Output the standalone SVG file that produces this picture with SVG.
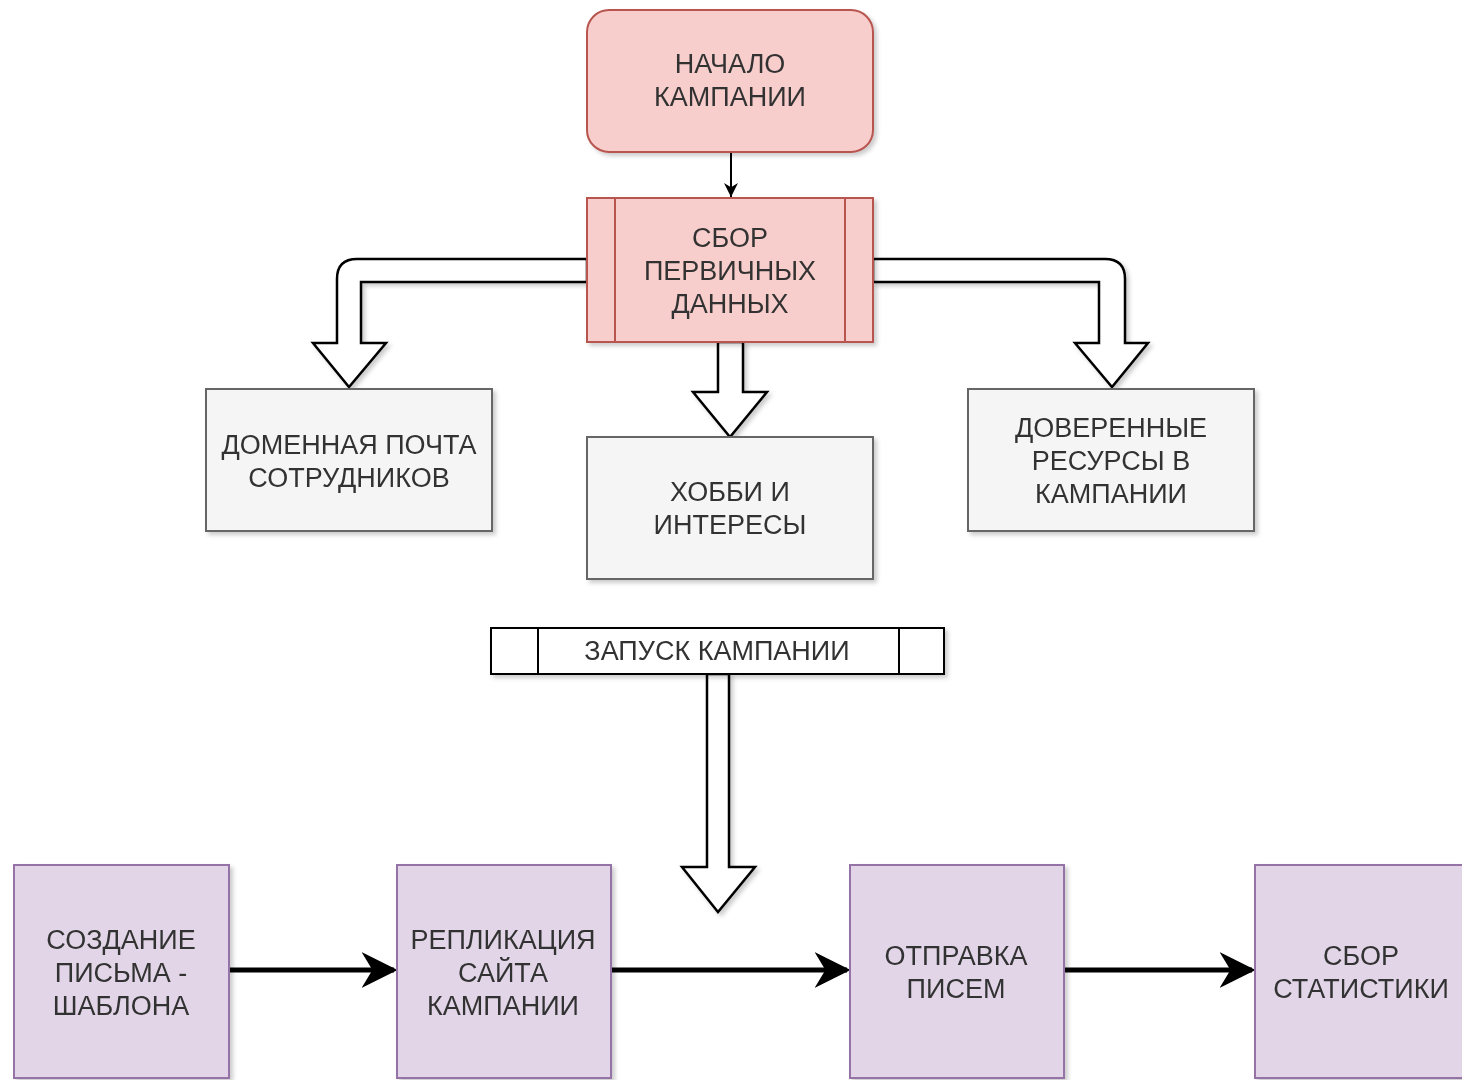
<svg xmlns="http://www.w3.org/2000/svg" width="1462" height="1080" viewBox="0 0 1462 1080">
  <style>
    text { font-family: "Liberation Sans", Arial, sans-serif; font-size: 27px; fill: #333333; text-anchor: middle; dominant-baseline: central; }
    .red { fill: #f8cecc; stroke: #b85450; stroke-width: 2; }
    .grey { fill: #f5f5f5; stroke: #666666; stroke-width: 2; }
    .purple { fill: #e1d5e7; stroke: #9673a6; stroke-width: 2; }
    .plain { fill: #ffffff; stroke: #000000; stroke-width: 2; }
    .bigarrow { fill: #ffffff; stroke: #000000; stroke-width: 2.5; stroke-linejoin: miter; }
    .flow { fill: none; stroke: #000000; stroke-width: 5; }
    .thin { fill: none; stroke: #000000; stroke-width: 2; }
  </style>
  <defs>
    <filter id="shadow" x="-10%" y="-10%" width="130%" height="130%">
      <feDropShadow dx="3" dy="3" stdDeviation="2" flood-color="#000000" flood-opacity="0.2"/>
    </filter>
    <marker id="thinHead" viewBox="0 0 10 10" refX="10" refY="5" markerWidth="14" markerHeight="14" markerUnits="userSpaceOnUse" orient="auto">
      <path d="M0,0 L10,5 L0,10 L3,5 Z" fill="#000000"/>
    </marker>
    <marker id="blockHead" viewBox="0 0 10 10" refX="9" refY="5" markerWidth="36" markerHeight="36" markerUnits="userSpaceOnUse" orient="auto">
      <path d="M0,0 L10,5 L0,10 L3,5 Z" fill="#000000"/>
    </marker>
  </defs>

  <!-- connectors -->
  <g id="connectors">
    <path class="thin" d="M731,152 L731,197" marker-end="url(#thinHead)"/>
    <!-- hollow arrow to the left branch -->
    <path class="bigarrow" filter="url(#shadow)" d="M587,259 L357,259 Q337,259 337,279 L337,343 L313,343 L349,387 L386,343 L361,343 L361,282 L587,282 Z"/>
    <!-- hollow arrow to the right branch -->
    <path class="bigarrow" filter="url(#shadow)" d="M873,259 L1105,259 Q1125,259 1125,279 L1125,343 L1148,343 L1112,387 L1075,343 L1099,343 L1099,282 L873,282 Z"/>
    <!-- hollow arrow straight down -->
    <path class="bigarrow" filter="url(#shadow)" d="M718,342 L718,392 L693,392 L730,437 L767,392 L743,392 L743,342 Z"/>
    <!-- hollow arrow from the launch bar -->
    <path class="bigarrow" filter="url(#shadow)" d="M707,674 L707,867 L682,867 L718,912 L755,867 L729,867 L729,674 Z"/>
    <!-- process flow -->
    <path class="flow" d="M229,970 L394,970" marker-end="url(#blockHead)"/>
    <path class="flow" d="M611,970 L847,970" marker-end="url(#blockHead)"/>
    <path class="flow" d="M1064,970 L1252,970" marker-end="url(#blockHead)"/>
  </g>

  <g id="start" filter="url(#shadow)">
    <rect class="red" x="587" y="10" width="286" height="142" rx="22" ry="22"/>
    <text x="730" y="64">НАЧАЛО</text>
    <text x="730" y="97">КАМПАНИИ</text>
  </g>

  <g id="collect" filter="url(#shadow)">
    <rect class="red" x="587" y="198" width="286" height="144"/>
    <line class="red" x1="615" y1="198" x2="615" y2="342"/>
    <line class="red" x1="845" y1="198" x2="845" y2="342"/>
    <text x="730" y="238">СБОР</text>
    <text x="730" y="271">ПЕРВИЧНЫХ</text>
    <text x="730" y="304">ДАННЫХ</text>
  </g>

  <g id="domain-mail" filter="url(#shadow)">
    <rect class="grey" x="206" y="389" width="286" height="142"/>
    <text x="349" y="445">ДОМЕННАЯ ПОЧТА</text>
    <text x="349" y="478">СОТРУДНИКОВ</text>
  </g>

  <g id="hobbies" filter="url(#shadow)">
    <rect class="grey" x="587" y="437" width="286" height="142"/>
    <text x="730" y="492">ХОББИ И</text>
    <text x="730" y="525">ИНТЕРЕСЫ</text>
  </g>

  <g id="trusted" filter="url(#shadow)">
    <rect class="grey" x="968" y="389" width="286" height="142"/>
    <text x="1111" y="428">ДОВЕРЕННЫЕ</text>
    <text x="1111" y="461">РЕСУРСЫ В</text>
    <text x="1111" y="494">КАМПАНИИ</text>
  </g>

  <g id="launch" filter="url(#shadow)">
    <rect class="plain" x="491" y="628" width="453" height="46"/>
    <line class="plain" x1="538" y1="628" x2="538" y2="674"/>
    <line class="plain" x1="899" y1="628" x2="899" y2="674"/>
    <text x="717" y="651">ЗАПУСК КАМПАНИИ</text>
  </g>

  <g id="template" filter="url(#shadow)">
    <rect class="purple" x="14" y="865" width="215" height="213"/>
    <text x="121" y="940">СОЗДАНИЕ</text>
    <text x="121" y="973">ПИСЬМА -</text>
    <text x="121" y="1006">ШАБЛОНА</text>
  </g>

  <g id="replica" filter="url(#shadow)">
    <rect class="purple" x="397" y="865" width="214" height="213"/>
    <text x="503" y="940">РЕПЛИКАЦИЯ</text>
    <text x="503" y="973">САЙТА</text>
    <text x="503" y="1006">КАМПАНИИ</text>
  </g>

  <g id="sending" filter="url(#shadow)">
    <rect class="purple" x="850" y="865" width="214" height="213"/>
    <text x="956" y="956">ОТПРАВКА</text>
    <text x="956" y="989">ПИСЕМ</text>
  </g>

  <g id="stats" filter="url(#shadow)">
    <rect class="purple" x="1255" y="865" width="214" height="213"/>
    <text x="1361" y="956">СБОР</text>
    <text x="1361" y="989">СТАТИСТИКИ</text>
  </g>
</svg>
